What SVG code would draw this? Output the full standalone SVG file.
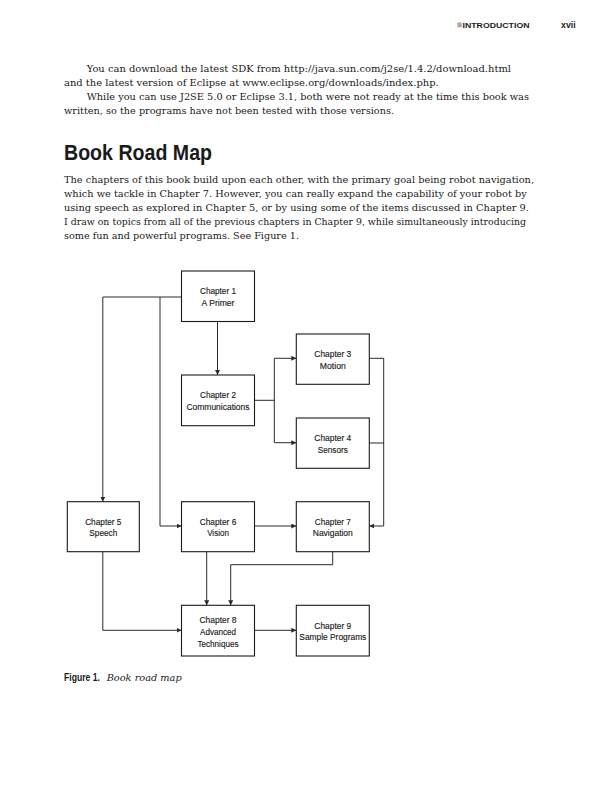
<svg xmlns="http://www.w3.org/2000/svg" width="598" height="800" viewBox="0 0 598 800">
<style>
.body{font-family:"DejaVu Serif","Liberation Serif",serif;font-size:9.2px;fill:#1a1a1a}
.hdr{font-family:"Liberation Sans",Arial,sans-serif;font-weight:bold;fill:#1a1a1a}
.box{fill:#fff;stroke:#1a1a1a;stroke-width:1.1}
.lbl{font-family:"Liberation Sans",Arial,sans-serif;font-size:9.2px;fill:#1a1a1a;stroke:#1a1a1a;stroke-width:0.15;text-anchor:middle}
.con{fill:none;stroke:#2a2a2a;stroke-width:1}
.arr{marker-end:url(#ah)}
</style>
<defs>
<marker id="ah" markerUnits="userSpaceOnUse" markerWidth="6" markerHeight="6" refX="5" refY="2.5" orient="auto">
<path d="M0,0 L5,2.5 L0,5 z" fill="#2a2a2a"/>
</marker>
</defs>
<rect width="598" height="800" fill="#fff"/>
<!-- header -->
<rect x="457.3" y="22.5" width="4.5" height="4.8" fill="#aaaaaa"/>
<text class="hdr" x="462.5" y="27.5" font-size="7.5" textLength="67" lengthAdjust="spacingAndGlyphs">INTRODUCTION</text>
<text class="hdr" x="561" y="27.5" font-size="8.5" textLength="14.7" lengthAdjust="spacingAndGlyphs">xvii</text>
<!-- paragraph 1 -->
<text class="body" x="86.7" y="72" textLength="424.3" lengthAdjust="spacingAndGlyphs">You can download the latest SDK from http://java.sun.com/j2se/1.4.2/download.html</text>
<text class="body" x="64" y="86" textLength="374.7" lengthAdjust="spacingAndGlyphs">and the latest version of Eclipse at www.eclipse.org/downloads/index.php.</text>
<text class="body" x="86.7" y="100" textLength="442.3" lengthAdjust="spacingAndGlyphs">While you can use J2SE 5.0 or Eclipse 3.1, both were not ready at the time this book was</text>
<text class="body" x="64" y="114" textLength="330" lengthAdjust="spacingAndGlyphs">written, so the programs have not been tested with those versions.</text>
<!-- heading -->
<text class="hdr" x="64" y="159.5" font-size="22" textLength="148" lengthAdjust="spacingAndGlyphs">Book Road Map</text>
<!-- paragraph 2 -->
<text class="body" x="64" y="183" textLength="470" lengthAdjust="spacingAndGlyphs">The chapters of this book build upon each other, with the primary goal being robot navigation,</text>
<text class="body" x="64" y="197" textLength="462.7" lengthAdjust="spacingAndGlyphs">which we tackle in Chapter 7. However, you can really expand the capability of your robot by</text>
<text class="body" x="64" y="211" textLength="465" lengthAdjust="spacingAndGlyphs">using speech as explored in Chapter 5, or by using some of the items discussed in Chapter 9.</text>
<text class="body" x="64" y="225" textLength="462" lengthAdjust="spacingAndGlyphs">I draw on topics from all of the previous chapters in Chapter 9, while simultaneously introducing</text>
<text class="body" x="64" y="239" textLength="235" lengthAdjust="spacingAndGlyphs">some fun and powerful programs. See Figure 1.</text>
<!-- connectors -->
<g id="connectors">
<path class="con arr" d="M181.5,297 H102.8 V501.7"/>
<path class="con arr" d="M160,297 V526 H181.5"/>
<path class="con arr" d="M217.5,321.5 V375"/>
<path class="con" d="M254.5,400.3 H274.3 M274.3,358.3 V442.7"/>
<path class="con arr" d="M274.3,358.3 H296.3"/>
<path class="con arr" d="M274.3,442.7 H296.3"/>
<path class="con" d="M369.3,443 H383.7"/>
<path class="con arr" d="M369.3,358.3 H383.7 V526 H369.3"/>
<path class="con arr" d="M254.5,526 H296.3"/>
<path class="con arr" d="M102.8,551.7 V630.3 H181.5"/>
<path class="con arr" d="M206.7,551.7 V605.3"/>
<path class="con arr" d="M332.7,551.7 V564.7 H230.7 V605.3"/>
<path class="con arr" d="M254.5,630.3 H296.3"/>
</g>
<!-- nodes -->
<g id="ch1"><rect class="box" x="181.5" y="271" width="73" height="50.5"/>
<text class="lbl" x="218" y="294.3" textLength="36" lengthAdjust="spacingAndGlyphs">Chapter 1</text>
<text class="lbl" x="218" y="305.7" textLength="33" lengthAdjust="spacingAndGlyphs">A Primer</text></g>
<g id="ch2"><rect class="box" x="181.5" y="375" width="73" height="50.7"/>
<text class="lbl" x="218" y="398.3" textLength="36" lengthAdjust="spacingAndGlyphs">Chapter 2</text>
<text class="lbl" x="218" y="409.8" textLength="63" lengthAdjust="spacingAndGlyphs">Communications</text></g>
<g id="ch3"><rect class="box" x="296.3" y="334" width="73" height="50.3"/>
<text class="lbl" x="332.8" y="357.3" textLength="37" lengthAdjust="spacingAndGlyphs">Chapter 3</text>
<text class="lbl" x="332.8" y="368.8" textLength="26" lengthAdjust="spacingAndGlyphs">Motion</text></g>
<g id="ch4"><rect class="box" x="296.3" y="418" width="73" height="50.3"/>
<text class="lbl" x="332.8" y="441.3" textLength="37" lengthAdjust="spacingAndGlyphs">Chapter 4</text>
<text class="lbl" x="332.8" y="452.8" textLength="30" lengthAdjust="spacingAndGlyphs">Sensors</text></g>
<g id="ch5"><rect class="box" x="67.3" y="501.7" width="72" height="50"/>
<text class="lbl" x="103.3" y="524.8" textLength="36.3" lengthAdjust="spacingAndGlyphs">Chapter 5</text>
<text class="lbl" x="103.3" y="536.3" textLength="28" lengthAdjust="spacingAndGlyphs">Speech</text></g>
<g id="ch6"><rect class="box" x="181.5" y="501.7" width="73" height="50"/>
<text class="lbl" x="218" y="524.8" textLength="36.7" lengthAdjust="spacingAndGlyphs">Chapter 6</text>
<text class="lbl" x="218" y="536.3" textLength="21.7" lengthAdjust="spacingAndGlyphs">Vision</text></g>
<g id="ch7"><rect class="box" x="296.3" y="501.7" width="73" height="50"/>
<text class="lbl" x="332.8" y="524.8" textLength="36" lengthAdjust="spacingAndGlyphs">Chapter 7</text>
<text class="lbl" x="332.8" y="536.3" textLength="40" lengthAdjust="spacingAndGlyphs">Navigation</text></g>
<g id="ch8"><rect class="box" x="181.5" y="605.3" width="73" height="50.7"/>
<text class="lbl" x="218" y="623.3" textLength="37" lengthAdjust="spacingAndGlyphs">Chapter 8</text>
<text class="lbl" x="218" y="635" textLength="36" lengthAdjust="spacingAndGlyphs">Advanced</text>
<text class="lbl" x="218" y="646.7" textLength="41" lengthAdjust="spacingAndGlyphs">Techniques</text></g>
<g id="ch9"><rect class="box" x="296.3" y="605.3" width="73" height="50.7"/>
<text class="lbl" x="332.8" y="628.5" textLength="37" lengthAdjust="spacingAndGlyphs">Chapter 9</text>
<text class="lbl" x="332.8" y="640" textLength="67" lengthAdjust="spacingAndGlyphs">Sample Programs</text></g>
<!-- caption -->
<text class="hdr" x="64" y="681" font-size="10.5" textLength="36" lengthAdjust="spacingAndGlyphs">Figure 1.</text>
<text class="body" x="106.7" y="681" font-size="10" font-style="italic" textLength="75" lengthAdjust="spacingAndGlyphs">Book road map</text>
</svg>
